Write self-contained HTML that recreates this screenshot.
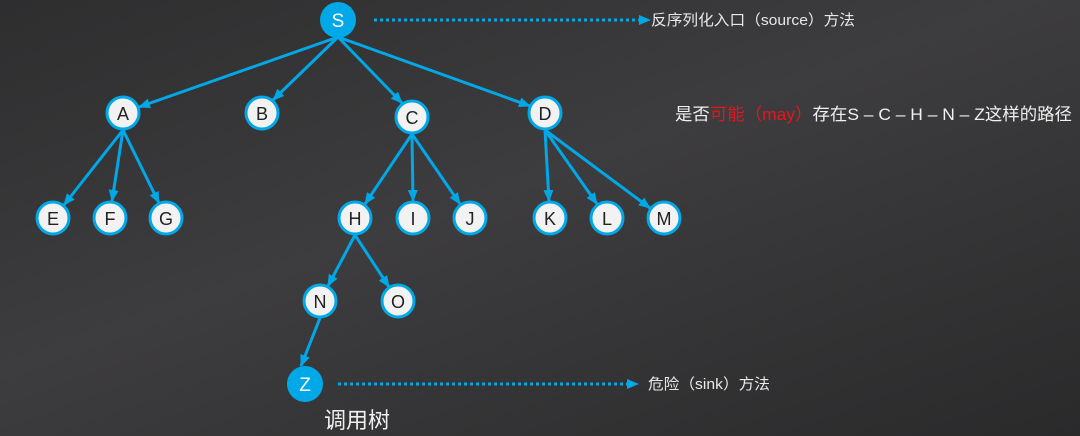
<!DOCTYPE html>
<html><head><meta charset="utf-8"><style>
html,body{margin:0;padding:0;width:1080px;height:436px;background:#333;}
body{overflow:hidden;background:linear-gradient(160deg,#2e2e2f 0%,#3d3c3e 45%,#2a2a2b 100%);}
svg{display:block;}
svg text{font-family:"Liberation Sans","Noto Sans CJK SC",sans-serif;}
</style></head><body>
<svg width="1080" height="436" xmlns="http://www.w3.org/2000/svg">
<defs>
<marker id="ar" markerUnits="userSpaceOnUse" markerWidth="12" markerHeight="10" refX="11" refY="5" orient="auto">
<path d="M0,0 L12,5 L0,10 z" fill="#00a8e8"/></marker>
</defs>
<g stroke="#00a8e8" stroke-width="3" fill="none" marker-end="url(#ar)">
<line x1="338" y1="37" x2="139" y2="107"/>
<line x1="338" y1="37" x2="273" y2="100"/>
<line x1="338" y1="37" x2="402" y2="103"/>
<line x1="338" y1="37" x2="530" y2="106"/>
<line x1="123" y1="130" x2="64" y2="205"/>
<line x1="123" y1="130" x2="112" y2="201"/>
<line x1="123" y1="130" x2="159" y2="203"/>
<line x1="412" y1="134" x2="365" y2="204"/>
<line x1="412" y1="134" x2="413" y2="201"/>
<line x1="412" y1="134" x2="460" y2="204"/>
<line x1="545" y1="130" x2="549" y2="201"/>
<line x1="545" y1="130" x2="597" y2="204"/>
<line x1="545" y1="130" x2="650" y2="208"/>
<line x1="355" y1="235" x2="328" y2="286"/>
<line x1="355" y1="235" x2="389" y2="287"/>
<line x1="320" y1="318" x2="301" y2="366"/>
</g>
<g stroke="#00a8e8" stroke-width="3" stroke-dasharray="3,3" fill="none" marker-end="url(#ar)">
<line x1="374" y1="20" x2="650" y2="20"/>
<line x1="338" y1="384" x2="638" y2="384"/>
</g>
<circle cx="338" cy="20" r="18" fill="#00a8e8"/>
<circle cx="305" cy="384" r="18" fill="#00a8e8"/>
<text x="338" y="27" font-size="19" fill="#fff" text-anchor="middle">S</text>
<text x="305" y="391" font-size="19" fill="#fff" text-anchor="middle">Z</text>
<g fill="#f2f2f2" stroke="#00a8e8" stroke-width="3">
<circle cx="123" cy="113" r="16"/><circle cx="262" cy="113" r="16"/><circle cx="412" cy="117" r="16"/><circle cx="545" cy="113" r="16"/>
<circle cx="53" cy="218" r="16"/><circle cx="110" cy="218" r="16"/><circle cx="166" cy="218" r="16"/>
<circle cx="355" cy="218" r="16"/><circle cx="413" cy="218" r="16"/><circle cx="470" cy="218" r="16"/>
<circle cx="550" cy="218" r="16"/><circle cx="607" cy="218" r="16"/><circle cx="664" cy="218" r="16"/>
<circle cx="320" cy="301" r="16"/><circle cx="398" cy="301" r="16"/>
</g>
<g font-size="18" fill="#222" text-anchor="middle">
<text x="123" y="120">A</text><text x="262" y="120">B</text><text x="412" y="124">C</text><text x="545" y="120">D</text>
<text x="53" y="225">E</text><text x="110" y="225">F</text><text x="166" y="225">G</text>
<text x="355" y="225">H</text><text x="413" y="225">I</text><text x="470" y="225">J</text>
<text x="550" y="225">K</text><text x="607" y="225">L</text><text x="664" y="225">M</text>
<text x="320" y="308">N</text><text x="398" y="308">O</text>
</g>
<text x="651" y="25" font-size="15" fill="#e8e8e8" textLength="204" lengthAdjust="spacingAndGlyphs">反序列化入口（source）方法</text>
<text x="648" y="389" font-size="15" fill="#e8e8e8" textLength="122" lengthAdjust="spacingAndGlyphs">危险（sink）方法</text>
<text x="324" y="428" font-size="22" fill="#f0f0f0">调用树</text>
<text x="675" y="120" font-size="17" fill="#f0f0f0" textLength="397" lengthAdjust="spacingAndGlyphs">是否<tspan fill="#e8141c">可能（may）</tspan>存在S – C – H – N – Z这样的路径</text>
</svg>
</body></html>
